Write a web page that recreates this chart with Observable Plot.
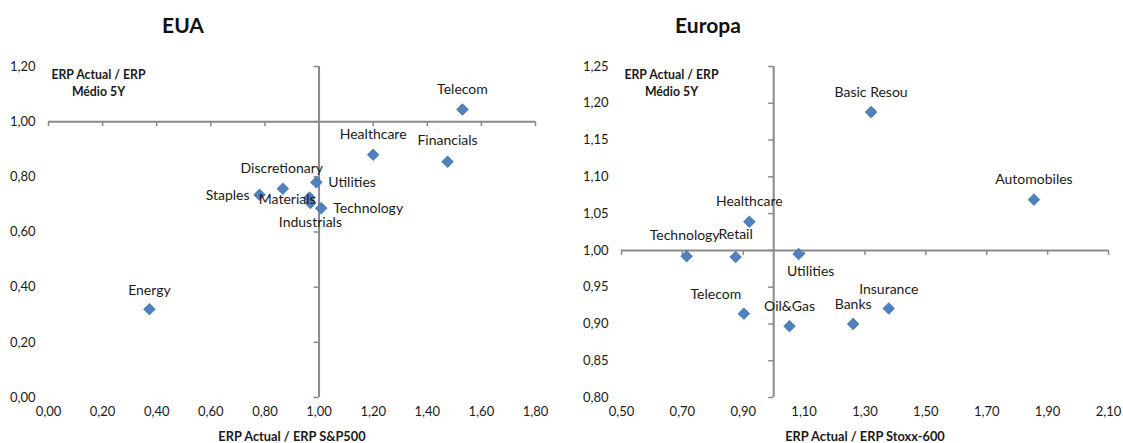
<!DOCTYPE html>
<html>
<head>
<meta charset="utf-8">
<script src="https://cdn.jsdelivr.net/npm/d3@7"></script>
<script src="https://cdn.jsdelivr.net/npm/@observablehq/plot@0.6"></script>
<style>
  html, body { margin: 0; padding: 0; background: #fff; }
  #wrap { position: relative; width: 1123px; height: 443px; font-family: Lato, "Open Sans", sans-serif; }
  .title { position: absolute; z-index: 5; top: 12px; font-weight: bold; font-size: 21px; line-height: 26px; color: #111; transform: translateX(-50%); white-space: nowrap; }
  .chart { position: absolute; top: 0; z-index: 1; }
</style>
</head>
<body>
<div id="wrap">
  <div class="chart" id="c1" style="left:0px"></div>
  <div class="chart" id="c2" style="left:561px"></div>
  <div class="title" style="left:183px">EUA</div>
  <div class="title" style="left:708px">Europa</div>
</div>
<script>
// ---- Data: EUA ----
const usNames = ["Telecom", "Healthcare", "Financials", "Utilities", "Discretionary", "Staples", "Materials", "Industrials", "Technology", "Energy"];
const usX = [1.53, 1.20, 1.475, 0.99, 0.866, 0.78, 0.965, 0.968, 1.008, 0.373];
const usY = [1.044, 0.88, 0.855, 0.78, 0.757, 0.735, 0.725, 0.705, 0.686, 0.32];
const usXTicks = [0, 0.2, 0.4, 0.6, 0.8, 1.0, 1.2, 1.4, 1.6, 1.8];
const usYTicks = [0, 0.2, 0.4, 0.6, 0.8, 1.0, 1.2];
const usXTitle = "ERP Actual / ERP S&P500";

// ---- Data: Europa ----
const euNames = ["Basic Resou", "Automobiles", "Healthcare", "Technology", "Retail", "Utilities", "Telecom", "Oil&Gas", "Banks", "Insurance"];
const euX = [1.32, 1.855, 0.92, 0.714, 0.875, 1.082, 0.902, 1.052, 1.261, 1.378];
const euY = [1.188, 1.069, 1.039, 0.992, 0.991, 0.995, 0.914, 0.897, 0.90, 0.921];
const euXTicks = [0.5, 0.7, 0.9, 1.1, 1.3, 1.5, 1.7, 1.9, 2.1];
const euYTicks = [0.80, 0.85, 0.90, 0.95, 1.00, 1.05, 1.10, 1.15, 1.20, 1.25];
const euXTitle = "ERP Actual / ERP Stoxx-600";

const yTitle = "ERP Actual / ERP\nMédio 5Y";

// ---- Label placement (layout, not data) ----
const usLayout = {
  "Telecom": [0, -20, "middle"], "Healthcare": [0, -20, "middle"], "Financials": [0, -21, "middle"],
  "Utilities": [12, 0, "start"], "Discretionary": [-1, -20, "middle"], "Staples": [-10, 1, "end"],
  "Materials": [6, 2, "end"], "Industrials": [0, 19, "middle"], "Technology": [12, 0, "start"],
  "Energy": [0, -19, "middle"]
};
const euLayout = {
  "Basic Resou": [0, -20, "middle"], "Automobiles": [0, -20, "middle"], "Healthcare": [0, -20, "middle"],
  "Technology": [-2, -21, "middle"], "Retail": [0, -22, "middle"], "Utilities": [12, 17, "middle"],
  "Telecom": [-28, -19, "middle"], "Oil&Gas": [0, -20, "middle"], "Banks": [0, -19, "middle"],
  "Insurance": [0, -19, "middle"]
};

const fmt = d => d.toFixed(2).replace(".", ",");
const gray = "#8a8a8a";

function chart({names, xs, ys, xDomain, yDomain, xTicks, yTicks, xTitle, layout, width, ml, mr}) {
  const data = names.map((n, i) => ({name: n, x: xs[i], y: ys[i]}));
  const labelMarks = data.map(d => {
    const [dx, dy, anchor] = layout[d.name];
    return Plot.text([d], {x: "x", y: "y", text: "name", dx, dy, textAnchor: anchor, lineAnchor: "middle", fontSize: 14, fill: "#1a1a1a"});
  });
  return Plot.plot({
    width, height: 443,
    marginLeft: ml, marginRight: mr, marginTop: 66, marginBottom: 46,
    x: {domain: xDomain},
    y: {domain: yDomain},
    style: {fontFamily: "Lato, 'Open Sans', sans-serif", fontSize: "13px", color: "#1a1a1a", background: "transparent"},
    marks: [
      Plot.axisX(xTicks, {tickSize: 0, tickPadding: 9, tickFormat: fmt, label: null}),
      Plot.axisY(yTicks, {tickSize: 0, tickPadding: 13, tickFormat: fmt, label: null}),
      Plot.ruleY([1], {stroke: gray, strokeWidth: 2}),
      Plot.ruleX([1], {stroke: gray, strokeWidth: 2}),
      Plot.ruleX(xTicks, {x: d => d, y1: () => 1, y2: () => 1, insetBottom: -5, stroke: gray, strokeWidth: 1.5}),
      Plot.ruleY(yTicks, {y: d => d, x1: () => 1, x2: () => 1, insetLeft: -5, stroke: gray, strokeWidth: 1.5}),
      Plot.dot(data, {x: "x", y: "y", symbol: "diamond2", r: 5.2, fill: "#4F81BD", stroke: "#3d6ea8", strokeWidth: 0.8}),
      ...labelMarks,
      Plot.text([xTitle], {text: d => d, frameAnchor: "bottom", dy: 39, lineAnchor: "middle", fontWeight: "bold", fontSize: 12.8}),
      Plot.text([yTitle], {text: d => d, frameAnchor: "top-left", dx: 50, dy: 1, lineAnchor: "top", textAnchor: "middle", lineHeight: 1.35, fontWeight: "bold", fontSize: 12.3})
    ]
  });
}

document.getElementById("c1").appendChild(chart({
  names: usNames, xs: usX, ys: usY, xDomain: [0, 1.8], yDomain: [0, 1.2],
  xTicks: usXTicks, yTicks: usYTicks, xTitle: usXTitle, layout: usLayout,
  width: 561, ml: 48, mr: 26
}));
document.getElementById("c2").appendChild(chart({
  names: euNames, xs: euX, ys: euY, xDomain: [0.5, 2.1], yDomain: [0.8, 1.25],
  xTicks: euXTicks, yTicks: euYTicks, xTitle: euXTitle, layout: euLayout,
  width: 562, ml: 60, mr: 15
}));
</script>
</body>
</html>
